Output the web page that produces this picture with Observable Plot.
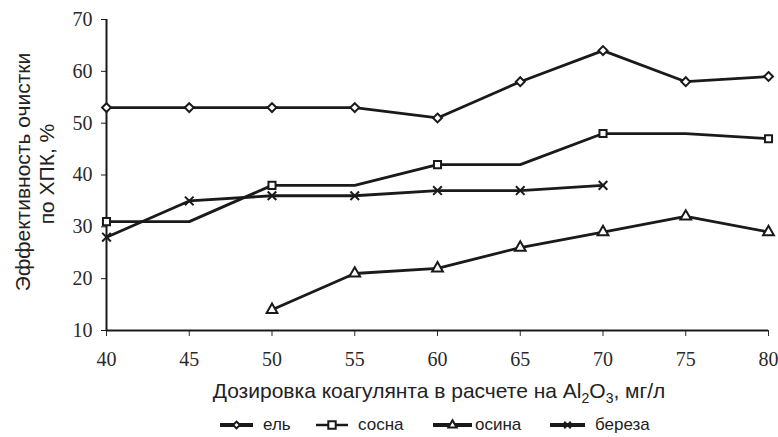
<!DOCTYPE html>
<html>
<head>
<meta charset="utf-8">
<script src="https://cdn.jsdelivr.net/npm/d3@7"></script>
<script src="https://cdn.jsdelivr.net/npm/@observablehq/plot@0.6"></script>
<style>
  html, body { margin: 0; padding: 0; background: #fff; }
  #chart { width: 778px; }
  #legend { position: relative; width: 778px; height: 27px; font-family: "Liberation Sans", Arial, sans-serif; font-size: 17px; color: #222; }
  #legend svg, #legend span { position: absolute; }
  #legend span { line-height: 20px; top: 5px; }
</style>
</head>
<body>
<div id="chart"></div>
<div id="legend"></div>
<script>
// ---- data ----
const doses = [40, 45, 50, 55, 60, 65, 70, 75, 80];
const yel   = [53, 53, 53, 53, 51, 58, 64, 58, 59];
const sosna = [31, 31, 38, 38, 42, 42, 48, 48, 47];
const osina = [null, null, 14, 21, 22, 26, 29, 32, 29];
const bereza = [28, 35, 36, 36, 37, 37, 38, null, null];
const sosnaMarkerDoses = [40, 50, 60, 70, 80];
const seriesNames = ["ель", "сосна", "осина", "береза"];
const seriesSymbols = ["diamond2", "square", "triangle", "times"];
const yTicks = [10, 20, 30, 40, 50, 60, 70];
const xTicks = [40, 45, 50, 55, 60, 65, 70, 75, 80];
const yTitle = ["Эффективность очистки", "по ХПК, %"];

// ---- build table ----
const values = [yel, sosna, osina, bereza];
const rows = [];
values.forEach((arr, i) => {
  arr.forEach((v, j) => {
    if (v != null) rows.push({series: seriesNames[i], dose: doses[j], value: v,
      marker: i === 1 ? sosnaMarkerDoses.includes(doses[j]) : true});
  });
});
const markerRows = rows.filter(d => d.marker);

const ink = "#1a1a1a";
const serif = "'Liberation Serif', 'Times New Roman', serif";

const plot = Plot.plot({
  width: 778,
  height: 410,
  marginTop: 19,
  marginBottom: 80,
  marginLeft: 106,
  marginRight: 10,
  x: {domain: [40, 80]},
  y: {domain: [10, 70]},
  symbol: {domain: seriesNames, range: seriesSymbols},
  style: {background: "#fff"},
  marks: [
    Plot.axisY({ticks: yTicks, tickSize: 5, tickPadding: 9, label: null,
      fontFamily: serif, fontSize: 20, stroke: ink, color: "#2a2a2a"}),
    Plot.axisX({ticks: xTicks, tickSize: 6, tickPadding: 15, label: null,
      fontFamily: serif, fontSize: 20, color: "#2a2a2a"}),
    Plot.ruleX([40], {stroke: ink, strokeWidth: 2}),
    Plot.ruleY([10], {stroke: ink, strokeWidth: 2}),
    Plot.line(rows, {x: "dose", y: "value", z: "series", stroke: ink, strokeWidth: 2.8, strokeLinejoin: "round"}),
    Plot.dot(markerRows, {x: "dose", y: "value", symbol: "series", r: 4, stroke: ink, strokeWidth: 2, fill: d => d.series === "береза" ? "none" : "white"})
  ]
});
document.getElementById("chart").appendChild(plot);

const svg = d3.select(plot);
// force serif tick labels
svg.selectAll("g[aria-label$='tick label'], g[aria-label$='tick label'] text")
  .attr("font-family", "Liberation Serif, Times New Roman, serif")
  .style("font-family", "'Liberation Serif', 'Times New Roman', serif");

// axis titles
const sans = "'Liberation Sans', Arial, sans-serif";
const xt = svg.append("text")
  .attr("x", 439).attr("y", 398)
  .attr("text-anchor", "middle")
  .attr("font-family", sans).attr("font-size", 21).attr("fill", "#222");
xt.append("tspan").text("Дозировка коагулянта в расчете на Al");
xt.append("tspan").attr("font-size", 14).attr("dy", 5).text("2");
xt.append("tspan").attr("dy", -5).text("O");
xt.append("tspan").attr("font-size", 14).attr("dy", 5).text("3");
xt.append("tspan").attr("dy", -5).text(", мг/л");

const yt = svg.append("g").attr("transform", "translate(30,172) rotate(-90)")
  .attr("font-family", sans).attr("font-size", 21).attr("fill", "#222").attr("text-anchor", "middle");
yt.append("text").attr("x", 0).attr("y", 0).text(yTitle[0]);
yt.append("text").attr("x", -2).attr("y", 24).text(yTitle[1]);

// legend
const symLeft = [220, 316, 433, 550];
const symWidth = [33, 32, 39, 35];
const textLeft = [263, 358, 475, 595];
const legend = d3.select("#legend");
const symMap = {diamond2: d3.symbolDiamond2, square: d3.symbolSquare, triangle: d3.symbolTriangle, times: d3.symbolTimes};
seriesNames.forEach((name, i) => {
  const w = symWidth[i];
  const s = legend.append("svg").attr("width", w).attr("height", 16)
    .style("left", symLeft[i] + "px").style("top", "7px");
  s.append("line").attr("x1", 0).attr("x2", w).attr("y1", 8).attr("y2", 8)
    .attr("stroke", ink).attr("stroke-width", i === 1 ? 2.5 : 4);
  s.append("path").attr("d", d3.symbol(symMap[seriesSymbols[i]], i === 1 ? 55 : 30)).attr("transform", `translate(${w / 2},8)`)
    .attr("fill", i === 3 ? "none" : "white").attr("stroke", ink).attr("stroke-width", 2);
  legend.append("span").style("left", textLeft[i] + "px").text(name);
});
</script>
</body>
</html>
